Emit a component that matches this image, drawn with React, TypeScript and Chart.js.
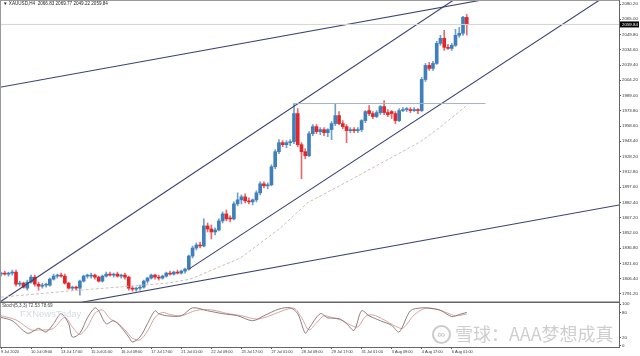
import React, { useEffect, useRef } from "react";
import { Chart, registerables } from "chart.js";

Chart.register(...registerables);

// ---- candle data (H4 bars, index 0 = 9 Jul 2020 01:00) ----
const barOpen = [
  1811, 1812, 1811, 1812, 1813, 1801, 1802, 1797, 1803, 1808,
  1801, 1799, 1800, 1800, 1806, 1809, 1810, 1809, 1802, 1797,
  1798, 1797, 1804, 1809, 1809, 1810, 1808, 1804, 1809, 1811,
  1810, 1811, 1809, 1810, 1808, 1797, 1796, 1797, 1798, 1804,
  1807, 1810, 1808, 1807, 1809, 1812, 1811, 1813, 1812, 1814,
  1816, 1829, 1837, 1840, 1839, 1859, 1856, 1853, 1855, 1864,
  1871, 1867, 1866, 1881, 1885, 1888, 1884, 1883, 1885, 1892,
  1901, 1899, 1900, 1918, 1933, 1942, 1940, 1942, 1943, 1971,
  1940, 1933, 1929, 1951, 1958, 1953, 1955, 1952, 1955, 1961,
  1969, 1961, 1958, 1954, 1955, 1954, 1955, 1964, 1974, 1971,
  1968, 1972, 1978, 1972, 1973, 1971, 1964, 1974, 1975, 1975,
  1974, 1975, 1974, 2005, 2019, 2016, 2021, 2041, 2046, 2037,
  2036, 2039, 2049, 2051, 2066.83,
];
const barHigh = [
  1813, 1814, 1813, 1815, 1815, 1804, 1803, 1805, 1810, 1810,
  1803, 1802, 1802, 1807, 1811, 1811, 1812, 1811, 1803, 1799,
  1799, 1805, 1810, 1811, 1812, 1811, 1809, 1810, 1813, 1813,
  1812, 1813, 1811, 1812, 1809, 1799, 1798, 1800, 1805, 1808,
  1811, 1811, 1810, 1810, 1813, 1814, 1814, 1815, 1815, 1817,
  1830, 1839, 1842, 1843, 1866, 1862, 1860, 1857, 1866, 1873,
  1875, 1869, 1883, 1892, 1890, 1891, 1887, 1886, 1894, 1903,
  1903, 1902, 1920, 1935, 1945, 1944, 1944, 1945, 1981, 1976,
  1942, 1936, 1953, 1960, 1960, 1957, 1957, 1956, 1963, 1981,
  1973, 1964, 1960, 1957, 1957, 1957, 1965, 1974, 1979, 1973,
  1974, 1979, 1984, 1975, 1974, 1973, 1976, 1977, 1977, 1977,
  1977, 1976, 2007, 2021, 2022, 2023, 2043, 2049, 2054, 2040,
  2041, 2055, 2057, 2068, 2069.77,
];
const barLow = [
  1809, 1810, 1809, 1810, 1799, 1799, 1797, 1795, 1802, 1799,
  1795, 1797, 1798, 1799, 1805, 1807, 1808, 1801, 1796, 1795,
  1795, 1790, 1803, 1807, 1807, 1806, 1803, 1803, 1808, 1809,
  1808, 1808, 1807, 1806, 1795, 1794, 1794, 1795, 1797, 1802,
  1806, 1806, 1805, 1806, 1808, 1810, 1810, 1811, 1811, 1812,
  1815, 1827, 1835, 1837, 1838, 1853, 1846, 1850, 1854, 1862,
  1864, 1863, 1865, 1879, 1881, 1882, 1881, 1880, 1883, 1890,
  1897, 1896, 1899, 1916, 1931, 1938, 1937, 1939, 1941, 1938,
  1906, 1926, 1928, 1949, 1951, 1950, 1949, 1948, 1945, 1959,
  1960, 1956, 1942, 1952, 1952, 1952, 1953, 1962, 1969, 1966,
  1967, 1970, 1970, 1968, 1966, 1961, 1963, 1973, 1973, 1972,
  1973, 1971, 1973, 2003, 2014, 2014, 2020, 2039, 2034, 2035,
  2034, 2038, 2047, 2049, 2049.22,
];
const barClose = [
  1812, 1811, 1812, 1813, 1801, 1802, 1798, 1803, 1808, 1801,
  1799, 1800, 1800, 1806, 1809, 1810, 1809, 1802, 1797, 1798,
  1797, 1804, 1809, 1809, 1810, 1808, 1804, 1809, 1811, 1810,
  1811, 1809, 1810, 1808, 1797, 1796, 1797, 1798, 1804, 1807,
  1810, 1808, 1807, 1809, 1812, 1811, 1813, 1812, 1814, 1816,
  1829, 1837, 1840, 1839, 1859, 1856, 1853, 1855, 1864, 1871,
  1866, 1866, 1881, 1885, 1888, 1884, 1883, 1885, 1892, 1901,
  1899, 1900, 1918, 1933, 1942, 1940, 1942, 1943, 1971, 1940,
  1933, 1929, 1951, 1958, 1953, 1955, 1952, 1955, 1961, 1969,
  1961, 1958, 1954, 1955, 1954, 1955, 1964, 1973, 1971, 1968,
  1972, 1978, 1972, 1970, 1971, 1964, 1974, 1975, 1975, 1974,
  1975, 1974, 2005, 2019, 2016, 2021, 2041, 2046, 2037, 2036,
  2039, 2049, 2051, 2067, 2059.84,
];

const bidPrice = 2059.84;

// ---- axis labels ----
const dateLabelBars = [0, 8, 16, 24, 32, 40, 48, 56, 64, 72, 80, 88, 96, 104, 112, 120];
const dateLabels = [
  "9 Jul 2020", "10 Jul 09:00", "13 Jul 17:00", "15 Jul 01:00", "16 Jul 09:00",
  "17 Jul 17:00", "21 Jul 01:00", "22 Jul 09:00", "23 Jul 17:00", "27 Jul 01:00",
  "28 Jul 09:00", "29 Jul 17:00", "31 Jul 01:00", "3 Aug 09:00", "4 Aug 17:00",
  "6 Aug 01:00",
];
const priceTicks = [
  2080.2, 2065.0, 2049.8, 2034.6, 2019.4, 2004.2, 1989.0, 1973.8, 1958.6, 1943.4,
  1928.2, 1912.8, 1897.6, 1882.4, 1867.2, 1852.0, 1836.8, 1821.6, 1806.4, 1791.2,
];
const stochTicks = [100, 80, 20, 0];

// ---- overlays (bar index, price) ----
const upperChannel = [[-5, 1771.4], [125, 2095.4]];
const lowerChannel = [[50, 1816], [165, 2098]];
const outerUpperLine = [[-1, 1996.8], [170, 2112.6]];
const outerLowerLine = [[15, 1778.5], [170, 1883.6]];
const resistanceLine = [[78, 1981], [129, 1981]];
const bidLine = [[-2, 2059.84], [170, 2059.84]];
const movingAverage = [
  [0, 1788], [17.6, 1794], [44.3, 1802], [50.4, 1806], [63.7, 1827], [74.4, 1857],
  [81.6, 1882], [93.1, 1905], [111.7, 1943], [117.1, 1958], [124.3, 1980],
];

// ---- stochastic (bar index, value) ----
const stochMain = [
  [0, 68], [3, 60], [7, 30], [9, 37], [10, 42], [12, 33], [14, 53], [16, 77], [18, 53],
  [19, 21], [21, 30], [23, 67], [25, 91], [26, 84], [28, 53], [30, 60], [32, 44], [34, 21],
  [35, 9], [37, 21], [39, 53], [41, 84], [42, 77], [44, 72], [48, 72], [51, 91], [55, 84],
  [59, 77], [63, 72], [67, 60], [70, 72], [74, 88], [77, 91], [79, 77], [81, 30], [82, 42],
  [85, 77], [87, 67], [90, 65], [92, 53], [94, 37], [96, 84], [98, 72], [101, 60], [104, 49],
  [106, 33], [109, 84], [112, 91], [114, 90], [117, 85], [120, 70], [122, 75], [124, 80],
];
const stochSignal = [
  [0, 72], [4, 62], [8, 38], [10, 38], [12, 38], [14, 42], [17, 68], [19, 45], [21, 27],
  [23, 45], [25, 78], [27, 86], [29, 65], [31, 55], [33, 38], [35, 18], [37, 14], [39, 35],
  [41, 68], [43, 80], [45, 75], [48, 72], [52, 85], [56, 86], [60, 78], [64, 72], [68, 64],
  [71, 70], [75, 84], [78, 90], [80, 68], [82, 38], [84, 55], [86, 72], [88, 68], [91, 60],
  [93, 50], [95, 45], [97, 70], [99, 74], [102, 62], [105, 47], [107, 42], [110, 74],
  [113, 90], [116, 88], [119, 78], [121, 72], [124, 76],
];

const BULL = "#3f7fba";
const BEAR = "#e3262b";
const BULL_WICK = "#6f9fcc";
const BEAR_WICK = "#e66a6d";
const TREND = "#3b4272";
const FONT = "'Liberation Sans', Arial, sans-serif";

const pts = (arr: number[][]) => arr.map(([x, y]) => ({ x, y }));

const trend = (data: number[][], color: string, width: number, dash: number[] = []) => ({
  type: "line" as const,
  data: pts(data),
  borderColor: color,
  borderWidth: width,
  borderDash: dash,
  pointRadius: 0,
  tension: 0,
  yAxisID: "y",
  order: 1,
  clip: false,
});

// clip every dataset to the pane (y scale) that it belongs to
const paneClipPlugin = {
  id: "paneClip",
  beforeDatasetDraw(chart: any, args: any) {
    const { ctx, chartArea } = chart;
    const ys = args.meta.yScale;
    ctx.save();
    ctx.beginPath();
    ctx.rect(chartArea.left, ys.top, chartArea.right - chartArea.left, ys.bottom - ys.top);
    ctx.clip();
  },
  afterDatasetDraw(chart: any) {
    chart.ctx.restore();
  },
};

const framePlugin = {
  id: "mtFrame",
  afterDraw(chart: any) {
    const { ctx, chartArea, scales } = chart;
    const y = scales.y;
    ctx.save();
    ctx.fillStyle = "#9a9a9a";
    ctx.fillRect(0, 0, 1, chartArea.bottom);
    ctx.fillRect(0, 0, chartArea.right, 1);
    ctx.fillStyle = "#666";
    ctx.fillRect(0, y.bottom - 0.5, chartArea.right, 1.5);
    const py = y.getPixelForValue(bidPrice);
    ctx.fillStyle = "#000";
    ctx.fillRect(chartArea.right + 1, py - 3, 19, 6);
    ctx.fillStyle = "#fff";
    ctx.font = `4.4px ${FONT}`;
    ctx.textBaseline = "middle";
    ctx.textAlign = "left";
    ctx.fillText(bidPrice.toFixed(2), chartArea.right + 3, py + 0.3);
    ctx.restore();
  },
};

export default function App() {
  const ref = useRef<HTMLCanvasElement>(null);

  useEffect(() => {
    document.body.style.margin = "0";
    const idx = barOpen.map((_, i) => i);
    const bodyColors = idx.map((i) => (barClose[i] >= barOpen[i] ? BULL : BEAR));
    const wickColors = idx.map((i) => (barClose[i] >= barOpen[i] ? BULL_WICK : BEAR_WICK));

    const noPad = (s: any) => {
      s.paddingTop = 0;
      s.paddingBottom = 0;
      s.paddingLeft = 0;
      s.paddingRight = 0;
    };

    const chart = new Chart(ref.current as HTMLCanvasElement, {
      type: "bar",
      data: {
        datasets: [
          {
            type: "bar",
            data: idx.map((i) => ({ x: i, y: [barLow[i], barHigh[i]] })) as any,
            backgroundColor: wickColors,
            barThickness: 1,
            grouped: false,
            yAxisID: "y",
            order: 6,
            clip: false,
          } as any,
          {
            type: "bar",
            data: idx.map((i) => ({ x: i, y: [barOpen[i], barClose[i]] })) as any,
            backgroundColor: bodyColors,
            barThickness: 3,
            minBarLength: 1,
            grouped: false,
            yAxisID: "y",
            order: 5,
            clip: false,
          } as any,
          trend(bidLine, "#d4d4d4", 1),
          trend(movingAverage, "#cdbfb6", 1, [3, 2]),
          trend(resistanceLine, "#a9b1c4", 1),
          trend(upperChannel, TREND, 1.1),
          trend(lowerChannel, TREND, 1.1),
          trend(outerUpperLine, TREND, 1.1),
          trend(outerLowerLine, TREND, 1.1),
          {
            type: "line",
            data: pts(stochSignal),
            borderColor: "#d49a9a",
            borderWidth: 0.9,
            pointRadius: 0,
            tension: 0.3,
            yAxisID: "y2",
            order: 2,
            clip: false,
          } as any,
          {
            type: "line",
            data: pts(stochMain),
            borderColor: "#857070",
            borderWidth: 0.9,
            pointRadius: 0,
            tension: 0.3,
            yAxisID: "y2",
            order: 1,
            clip: false,
          } as any,
        ],
      },
      options: {
        responsive: false,
        animation: false,
        devicePixelRatio: 1,
        layout: { padding: 0 },
        plugins: { legend: { display: false }, tooltip: { enabled: false }, title: { display: false } },
        events: [],
        scales: {
          x: {
            type: "linear",
            min: -0.267,
            max: 164.53,
            offset: false,
            afterBuildTicks: (s: any) => {
              s.ticks = dateLabelBars.map((v) => ({ value: v }));
            },
            afterFit: (s: any) => {
              s.height = 9;
              noPad(s);
            },
            grid: { drawOnChartArea: false, offset: false, tickLength: 2, color: "#555" },
            border: { display: true, color: "#666" },
            ticks: {
              autoSkip: false,
              maxRotation: 0,
              minRotation: 0,
              align: "start",
              padding: 1,
              color: "#333",
              font: { size: 3.9, family: FONT },
              callback: (v: any) => {
                const k = dateLabelBars.indexOf(Number(v));
                return k >= 0 ? dateLabels[k] : "";
              },
            },
          },
          y: {
            type: "linear",
            position: "right",
            stack: "panes",
            stackWeight: 302,
            min: 1783.2,
            max: 2084.2,
            afterBuildTicks: (s: any) => {
              s.ticks = priceTicks.map((v) => ({ value: v }));
            },
            afterFit: (s: any) => {
              s.width = 21;
              noPad(s);
            },
            grid: { drawOnChartArea: false, tickLength: 2, color: "#555" },
            border: { display: true, color: "#666" },
            ticks: {
              autoSkip: false,
              crossAlign: "near",
              padding: 1,
              color: "#333",
              font: { size: 4.4, family: FONT },
              callback: (v: any) => Number(v).toFixed(2),
            },
          },
          y2: {
            type: "linear",
            position: "right",
            stack: "panes",
            stackWeight: 45,
            min: -3,
            max: 105,
            afterBuildTicks: (s: any) => {
              s.ticks = stochTicks.map((v) => ({ value: v }));
            },
            afterFit: (s: any) => {
              s.width = 21;
              noPad(s);
            },
            grid: { drawOnChartArea: false, tickLength: 2, color: "#555" },
            border: { display: true, color: "#666" },
            ticks: {
              autoSkip: false,
              crossAlign: "near",
              padding: 1,
              color: "#333",
              font: { size: 4.4, family: FONT },
              callback: (v: any) => String(v),
            },
          },
        },
      } as any,
      plugins: [paneClipPlugin, framePlugin],
    });
    return () => chart.destroy();
  }, []);

  return (
    <div
      style={{
        position: "absolute",
        left: 0,
        top: 0,
        width: 640,
        height: 356,
        background: "#fff",
        overflow: "hidden",
      }}
    >
      <canvas ref={ref} width={640} height={356} style={{ display: "block" }} />
      <div
        style={{
          position: "absolute",
          left: 3,
          top: 1,
          font: `4.6px ${FONT}`,
          color: "#222",
          whiteSpace: "pre",
          lineHeight: "6px",
        }}
      >
        {"▼ XAUUSD,H4  2066.83 2069.77 2049.22 2059.84"}
      </div>
      <div
        style={{
          position: "absolute",
          left: 2,
          top: 303,
          font: `4.6px ${FONT}`,
          color: "#444",
          whiteSpace: "pre",
          lineHeight: "6px",
        }}
      >
        {"Stoch(5,3,3) 72.53 78.69"}
      </div>
      <div
        style={{
          position: "absolute",
          left: 20,
          top: 308,
          font: `9.5px ${FONT}`,
          color: "#d5dae2",
          whiteSpace: "pre",
          lineHeight: "11px",
        }}
      >
        FXNewsToday
      </div>
      <div
        style={{
          position: "absolute",
          left: 432,
          top: 325,
          width: 15,
          height: 15,
          borderRadius: "50%",
          border: "2px solid rgba(160,160,160,0.55)",
          color: "rgba(160,160,160,0.6)",
          font: `bold 11px ${FONT}`,
          lineHeight: "15px",
          textAlign: "center",
        }}
      >
        ∞
      </div>
      <div
        style={{
          position: "absolute",
          left: 455,
          top: 323,
          font: `18px 'Noto Sans CJK SC', sans-serif`,
          color: "rgba(165,165,165,0.55)",
          whiteSpace: "pre",
          lineHeight: "20px",
        }}
      >
        雪球：AAA梦想成真
      </div>
    </div>
  );
}
